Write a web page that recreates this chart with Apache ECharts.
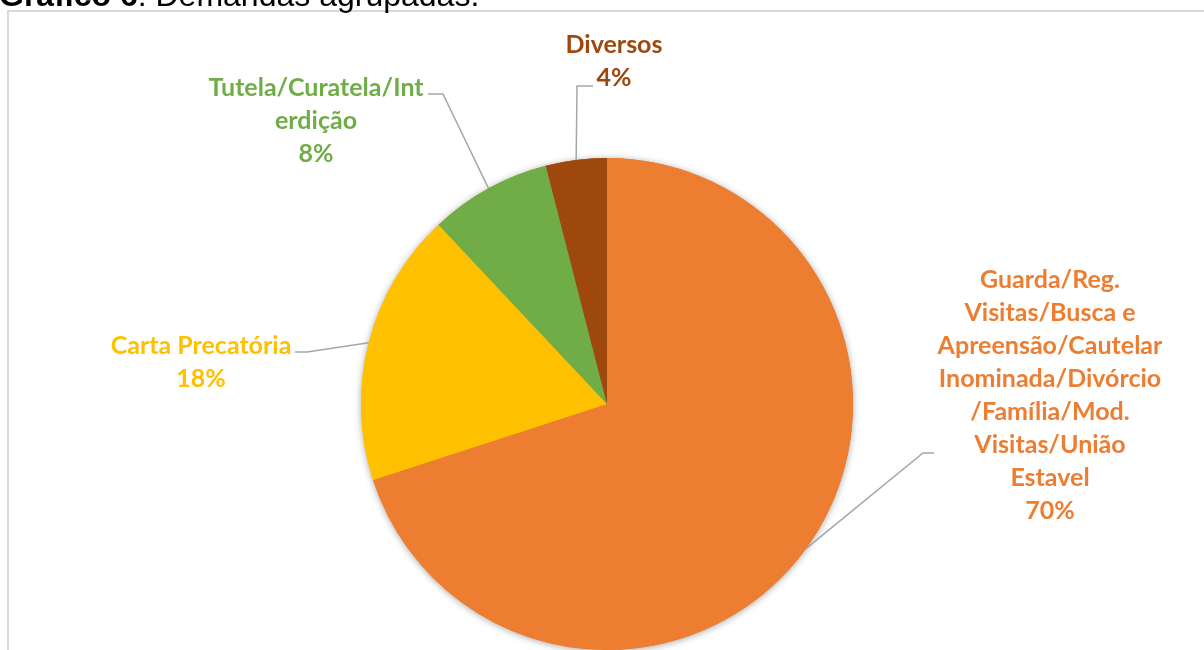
<!DOCTYPE html>
<html>
<head>
<meta charset="utf-8">
<script src="https://cdn.jsdelivr.net/npm/echarts@6/dist/echarts.min.js"></script>
<style>
  html, body { margin: 0; padding: 0; background: #ffffff; }
  #chart { width: 1204px; height: 650px; }
</style>
</head>
<body>
<div id="chart"></div>
<script>
// Grouped case demands, share of total (%)
const categories = [
  'Guarda/Reg.\nVisitas/Busca e\nApreensão/Cautelar\nInominada/Divórcio\n/Família/Mod.\nVisitas/União\nEstavel',
  'Carta Precatória',
  'Tutela/Curatela/Int\nerdição',
  'Diversos'
];
const shares = [70, 18, 8, 4];
const sliceColors = ['#ED7D31', '#FFC000', '#70AD47', '#9E480E'];

// label placement: centre of each text block, end of its leader line
// (relative to that centre) and the short horizontal elbow
const labelPlace = [
  { cx: 1050, cy: 395, ex: -116, ey: 58, knee: -11 },
  { cx: 201,  cy: 362, ex: 94,   ey: -10, knee: 12 },
  { cx: 316,  cy: 121, ex: 112,  ey: -27, knee: 15 },
  { cx: 614,  cy: 61,  ex: -21,  ey: 25,  knee: -16 }
];

const chart = echarts.init(document.getElementById('chart'), null, { renderer: 'canvas' });

const data = shares.map((v, i) => ({
  name: categories[i],
  value: v,
  itemStyle: { color: sliceColors[i] },
  label: { color: sliceColors[i] }
}));

const center = [607, 404];
const radius = 246;

chart.setOption({
  backgroundColor: '#ffffff',
  animation: false,
  graphic: [
    {
      type: 'rect',
      shape: { x: 8, y: 11, width: 1220, height: 700 },
      style: { fill: null, stroke: '#D9D9D9', lineWidth: 2 },
      z: 0
    },
    {
      type: 'text',
      x: -1,
      y: -3,
      style: {
        text: '{b|Gráfico 6}{r|: Demandas agrupadas.}',
        textVerticalAlign: 'middle',
        rich: {
          b: { fontFamily: 'Liberation Sans', fontWeight: 'bold', fontSize: 32, fill: '#000000' },
          r: { fontFamily: 'Liberation Sans', fontSize: 32, fill: '#000000' }
        }
      },
      z: 10
    }
  ],
  series: [
    {
      // soft outer shadow behind the whole pie
      type: 'pie',
      silent: true,
      z: 1,
      center: center,
      radius: radius,
      startAngle: 90,
      clockwise: true,
      label: { show: false },
      labelLine: { show: false },
      itemStyle: {
        shadowBlur: 7,
        shadowColor: 'rgba(0,0,0,0.35)',
        shadowOffsetX: 0,
        shadowOffsetY: 1
      },
      data: shares.map((v, i) => ({ name: categories[i], value: v, itemStyle: { color: sliceColors[i] } }))
    },
    {
      type: 'pie',
      z: 2,
      center: center,
      radius: radius,
      startAngle: 90,
      clockwise: true,
      avoidLabelOverlap: false,
      itemStyle: { borderWidth: 0 },
      label: {
        show: true,
        position: 'outside',
        formatter: p => p.name + '\n' + p.value + '%',
        fontFamily: 'Lato',
        fontWeight: 'bold',
        fontSize: 25,
        lineHeight: 33,
        align: 'center'
      },
      labelLine: {
        show: true,
        length: 20,
        length2: 12,
        lineStyle: { color: '#A6A6A6', width: 1.5 }
      },
      labelLayout: function (params) {
        const lp = labelPlace[params.dataIndex];
        const pts = params.labelLinePoints;
        const anchor = pts ? pts[0] : [lp.cx, lp.cy];
        const end = [lp.cx + lp.ex, lp.cy + lp.ey];
        const elbow = [end[0] + lp.knee, end[1]];
        return {
          x: lp.cx,
          y: lp.cy,
          align: 'center',
          verticalAlign: 'middle',
          labelLinePoints: [anchor, elbow, end]
        };
      },
      emphasis: { disabled: true },
      data: data
    }
  ]
});
</script>
</body>
</html>
